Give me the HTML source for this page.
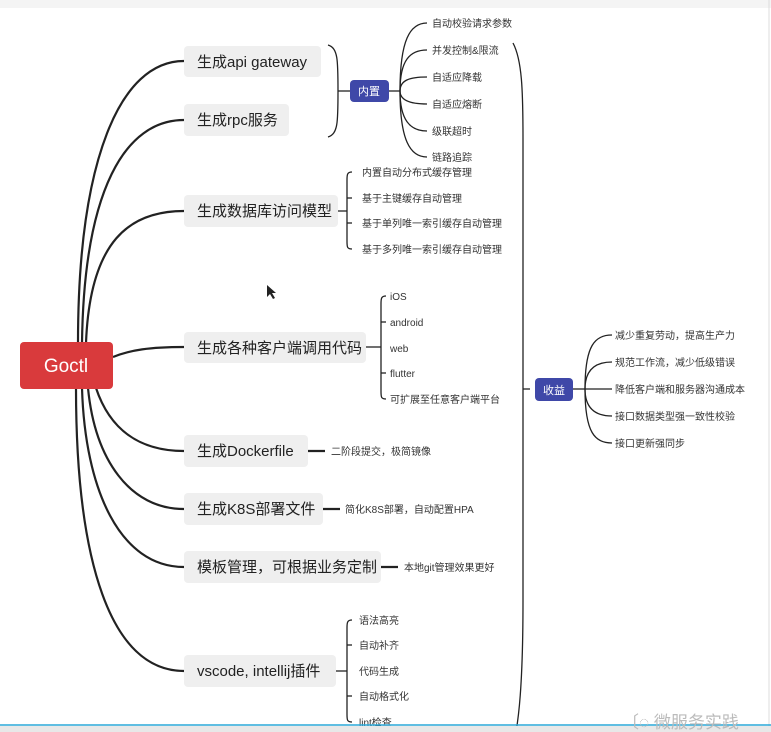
<!DOCTYPE html>
<html><head><meta charset="utf-8"><style>
html,body{margin:0;padding:0;background:#fff}
svg{display:block}
text{font-family:"Liberation Sans","Noto Sans CJK SC",sans-serif;fill:#222}
.l1{font-size:15px}
.s{font-size:10px;fill:#333}
</style></head><body>
<svg width="771" height="732" viewBox="0 0 771 732" xmlns="http://www.w3.org/2000/svg">
<rect x="0" y="0" width="771" height="8" fill="#f4f4f4"/>
<line x1="769" y1="0" x2="769" y2="732" stroke="#ddd"/>
<g fill="none" stroke="#222" stroke-width="2.2">
<path d="M78 343 C78 160,120 61,184 61"/>
<path d="M82 343 C84 190,125 120,184 120"/>
<path d="M86 343 C90 240,130 211,184 211"/>
<path d="M113 357 C130 350,150 347,184 347"/>
<path d="M96 388 C110 430,140 451,184 451"/>
<path d="M88 388 C95 460,130 509,184 509"/>
<path d="M82 388 C85 490,120 567,184 567"/>
<path d="M76 388 C76 560,110 671,184 671"/>
</g>
<g fill="none" stroke="#222" stroke-width="1.3">
<path d="M328 45 C338 48,338 60,338 91 C338 122,338 134,328 137"/>
<line x1="338" y1="91" x2="350" y2="91"/>
<line x1="389" y1="91" x2="400" y2="91"/>
<path d="M400 91 C400 40,410 23,427 23"/><path d="M400 91 C400 60,410 50,427 50"/><path d="M400 91 C400 80,410 77,427 77"/><path d="M400 91 C400 100,410 104,427 104"/><path d="M400 91 C400 120,410 131,427 131"/><path d="M400 91 C400 140,410 157,427 157"/>
<line x1="338" y1="211" x2="347" y2="211"/>
<path d="M352 172 C347 172,347 175,347 180 L347 241 C347 247,347 249,352 249"/>
<line x1="347" y1="198" x2="352" y2="198"/><line x1="347" y1="223" x2="352" y2="223"/>
<line x1="366" y1="347" x2="381" y2="347"/>
<path d="M386 296 C381 296,381 299,381 304 L381 391 C381 397,381 399,386 399"/>
<line x1="381" y1="322" x2="386" y2="322"/><line x1="381" y1="373" x2="386" y2="373"/>
<line x1="336" y1="671" x2="347" y2="671"/>
<path d="M352 620 C347 620,347 623,347 628 L347 714 C347 720,347 722,352 722"/>
<line x1="347" y1="645" x2="352" y2="645"/><line x1="347" y1="696" x2="352" y2="696"/>
<path d="M513 43 C522 60,523 90,523 140 L523 600 C523 690,518 720,516 732"/>
<line x1="523" y1="389" x2="530" y2="389"/>
<line x1="573" y1="389" x2="585" y2="389"/>
<path d="M585 389 C585 345,595 335,612 335"/><path d="M585 389 C585 370,595 362,612 362"/><line x1="585" y1="389" x2="612" y2="389"/><path d="M585 389 C585 408,595 416,612 416"/><path d="M585 389 C585 433,595 443,612 443"/>
</g>
<g stroke="#222" stroke-width="2.2"><line x1="308" y1="451" x2="325" y2="451"/><line x1="323" y1="509" x2="340" y2="509"/><line x1="381" y1="567" x2="398" y2="567"/></g>
<rect x="20" y="342" width="93" height="47" rx="4" fill="#d93a3c"/>
<text x="66" y="372" text-anchor="middle" style="font-size:19px;fill:#fff">Goctl</text>
<g fill="#efefef">
<rect x="184" y="46" width="137" height="31" rx="4"/><rect x="184" y="104" width="105" height="32" rx="4"/><rect x="184" y="195" width="154" height="32" rx="4"/><rect x="184" y="332" width="182" height="31" rx="4"/><rect x="184" y="435" width="124" height="32" rx="4"/><rect x="184" y="493" width="139" height="32" rx="4"/><rect x="184" y="551" width="197" height="32" rx="4"/><rect x="184" y="655" width="152" height="32" rx="4"/>
</g>
<text class="l1" x="197" y="67">生成api gateway</text>
<text class="l1" x="197" y="125">生成rpc服务</text>
<text class="l1" x="197" y="216">生成数据库访问模型</text>
<text class="l1" x="197" y="353">生成各种客户端调用代码</text>
<text class="l1" x="197" y="456">生成Dockerfile</text>
<text class="l1" x="197" y="514">生成K8S部署文件</text>
<text class="l1" x="197" y="572">模板管理，可根据业务定制</text>
<text class="l1" x="197" y="676">vscode, intellij插件</text>
<rect x="350" y="80" width="39" height="22" rx="4" fill="#3f48a8"/>
<text x="369" y="95" text-anchor="middle" style="font-size:11px;fill:#fff">内置</text>
<rect x="535" y="378" width="38" height="23" rx="4" fill="#3f48a8"/>
<text x="554" y="394" text-anchor="middle" style="font-size:11px;fill:#fff">收益</text>
<g class="s">
<text class="s" x="432" y="27">自动校验请求参数</text><text class="s" x="432" y="54">并发控制&amp;限流</text><text class="s" x="432" y="81">自适应降载</text><text class="s" x="432" y="108">自适应熔断</text><text class="s" x="432" y="135">级联超时</text><text class="s" x="432" y="161">链路追踪</text>
<text class="s" x="362" y="176">内置自动分布式缓存管理</text><text class="s" x="362" y="202">基于主键缓存自动管理</text><text class="s" x="362" y="227">基于单列唯一索引缓存自动管理</text><text class="s" x="362" y="253">基于多列唯一索引缓存自动管理</text>
<text class="s" x="390" y="300">iOS</text><text class="s" x="390" y="326">android</text><text class="s" x="390" y="352">web</text><text class="s" x="390" y="377">flutter</text><text class="s" x="390" y="403">可扩展至任意客户端平台</text>
<text class="s" x="331" y="455">二阶段提交，极简镜像</text>
<text class="s" x="345" y="513">简化K8S部署，自动配置HPA</text>
<text class="s" x="404" y="571">本地git管理效果更好</text>
<text class="s" x="359" y="624">语法高亮</text><text class="s" x="359" y="649">自动补齐</text><text class="s" x="359" y="675">代码生成</text><text class="s" x="359" y="700">自动格式化</text><text class="s" x="359" y="726">lint检查</text>
<text class="s" x="615" y="339">减少重复劳动，提高生产力</text><text class="s" x="615" y="366">规范工作流，减少低级错误</text><text class="s" x="615" y="393">降低客户端和服务器沟通成本</text><text class="s" x="615" y="420">接口数据类型强一致性校验</text><text class="s" x="615" y="447">接口更新强同步</text>
</g>
<path d="M267 285 L267 297 L270 294 L273 299 L275 298 L272 293 L276 293 Z" fill="#222"/>
<rect x="0" y="726" width="771" height="6" fill="#e8e8e8"/>
<line x1="0" y1="725" x2="771" y2="725" stroke="#2aa8d8" stroke-width="1.5"/>
<text x="622" y="728" style="font-size:17px;fill:#bbb">〔◌ 微服务实践</text>
</svg>
</body></html>
